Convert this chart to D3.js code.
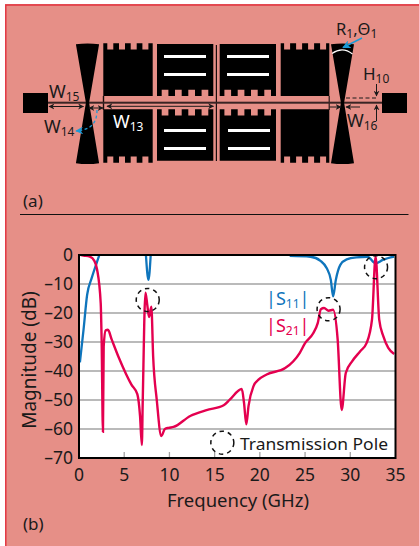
<!DOCTYPE html>
<html>
<head>
<meta charset="utf-8">
<script src="https://cdn.jsdelivr.net/npm/d3@7"></script>
<style>
  html, body { margin: 0; padding: 0; background: #fff; }
  svg { display: block; }
  text { font-family: "Noto Sans", "Open Sans", sans-serif; fill: #1a1a1a; }
</style>
</head>
<body>
<div id="chart"></div>
<script>
// --- Data ---
const s21Freq = [0.2, 0.5, 1.2, 1.7, 2.0, 2.4, 2.5, 2.65, 2.73, 2.95, 3.2, 3.6, 4.35, 5.2, 5.8, 6.45, 6.75, 6.95, 7.05, 7.35, 7.55, 7.75, 8.0, 8.2, 8.6, 9.1, 9.5, 9.9, 10.45, 12.3, 14.1, 16, 16.7, 18.0, 18.25, 18.5, 18.75, 19.3, 19.85, 20.75, 22.8, 24.4, 25, 25.9, 26.4, 26.75, 27.1, 27.6, 28.1, 28.6, 29.05, 29.5, 30.2, 31.1, 31.8, 32.4, 32.8, 33.2, 33.65, 34.2, 34.85];
const s21Mag = [0, -0.2, -0.6, -2, -5, -16.6, -29, -61, -31.5, -26, -25.8, -29, -35, -41, -44.7, -48, -55.5, -65.5, -50, -13, -17.2, -21.4, -17.8, -35, -50, -62.4, -60, -59.6, -59.3, -55.5, -53.5, -51.8, -49.8, -46.2, -51, -58.4, -52, -45.2, -43, -41.2, -39, -33.8, -30.4, -27, -23.5, -18.7, -18.3, -19.2, -18.9, -29, -53.5, -40.7, -36.7, -33.2, -30.4, -22.3, -0.5, -22.3, -28, -32, -34.1];
const s11Freq = [0.1, 0.5, 0.9, 1.4, 2, 2.25, 3, 7.4, 7.68, 7.93, 15, 23.3, 25.6, 26.7, 27.4, 27.85, 28.1, 28.4, 28.9, 29.6, 30.7, 31.9, 32.8, 33.6, 34.85];
const s11Mag = [-37, -25.8, -13.7, -8, -2.3, 0, null, 0, -8.6, 0, null, -0.3, -0.6, -2, -4.6, -8.6, -14.3, -8.6, -3.4, -1.5, -0.8, -0.6, -2.9, -1.7, -0.6];
const poleFreq = [7.6, 27.6, 32.85];
const poleMag = [-15.5, -18.7, -4.2];
const xTicks = [0, 5, 10, 15, 20, 25, 30, 35];
const yTicks = [0, -10, -20, -30, -40, -50, -60, -70];

const W = 419, H = 546;
const plot = { left: 79, right: 395.5, top: 255, bottom: 458 };
const BG = "#e68f87", BLUE = "#0f75bc", RED = "#e4004f", SKY = "#1b9ad6";

const svg = d3.select("#chart").append("svg").attr("width", W).attr("height", H);

// page background + the red edge of the box
svg.append("rect").attr("x", 5).attr("y", 4).attr("width", W - 5).attr("height", H - 4).attr("fill", BG);
svg.append("path").attr("d", `M5.8,${H}V5H${W}`).attr("fill", "none").attr("stroke", "#e2333f").attr("stroke-width", 1.4);

const defs = svg.append("defs");
defs.append("clipPath").attr("id", "plotClip").append("rect")
  .attr("x", plot.left).attr("y", plot.top)
  .attr("width", plot.right - plot.left).attr("height", plot.bottom - plot.top);

function addMarker(id, color) {
  defs.append("marker").attr("id", id).attr("viewBox", "0 0 10 10").attr("refX", 9).attr("refY", 5)
    .attr("markerWidth", 6).attr("markerHeight", 6).attr("orient", "auto-start-reverse")
    .append("path").attr("d", "M0,0L10,5L0,10L3,5Z").attr("fill", color);
}
addMarker("arrowK", "#1a1a1a");
addMarker("arrowB", SKY);

// --- (a) layout schematic ---
const layout = svg.append("g");

function rect(x0, y0, x1, y1, fill) {
  layout.append("rect").attr("x", x0).attr("y", y0).attr("width", x1 - x0).attr("height", y1 - y0).attr("fill", fill);
}

// toothed block: 4 notches cut along the top or bottom side
function block(x0, y0, x1, y1, side, offset, pitch, nw) {
  const depth = 6.3;
  const notches = d3.range(4).map(i => x0 + offset + i * pitch);
  const p = d3.path();
  p.moveTo(x0, y0);
  if (side === "top") {
    notches.forEach(a => {
      p.lineTo(a, y0); p.lineTo(a, y0 + depth); p.lineTo(a + nw, y0 + depth); p.lineTo(a + nw, y0);
    });
  }
  p.lineTo(x1, y0); p.lineTo(x1, y1);
  if (side === "bottom") {
    notches.slice().reverse().forEach(a => {
      p.lineTo(a + nw, y1); p.lineTo(a + nw, y1 - depth); p.lineTo(a, y1 - depth); p.lineTo(a, y1);
    });
  }
  p.lineTo(x0, y1);
  p.closePath();
  layout.append("path").attr("d", p.toString()).attr("fill", "#000");
}

function bowtie(cx, halfTop, y0, y1, midY) {
  const p = d3.path();
  p.moveTo(cx - halfTop, y0 + 0.8);
  p.quadraticCurveTo(cx, y0 - 1, cx + halfTop, y0 + 0.8);
  p.lineTo(cx + 1.6, midY);
  p.lineTo(cx + halfTop, y1 - 0.8);
  p.quadraticCurveTo(cx, y1 + 1, cx - halfTop, y1 - 0.8);
  p.lineTo(cx - 1.6, midY);
  p.closePath();
  layout.append("path").attr("d", p.toString()).attr("fill", "#000");
}

const feedY = 102.7;

// outer toothed blocks
block(103.3, 43.3, 152.7, 96, "top", 4, 11.7, 6);
block(103.3, 109.3, 152.7, 162.7, "bottom", 4, 11.7, 6);
block(280.7, 43.3, 329.3, 96, "top", 3.4, 12, 6);
block(280.7, 109.3, 329.3, 162.7, "bottom", 3.4, 12, 6);
// inner toothed blocks
block(157, 44, 213.3, 96, "bottom", 4.7, 13.3, 6.7);
block(157, 109.3, 213.3, 160.7, "top", 4.7, 13.3, 6.7);
block(219.7, 44, 276, 96, "bottom", 4.7, 13.3, 6.7);
block(219.7, 109.3, 276, 160.7, "top", 4.7, 13.3, 6.7);

// slots in the inner blocks
[[164, 206, 55, 58], [164, 206, 73, 76], [164, 206, 129, 132], [164, 206, 147, 150],
 [227, 269, 55, 58], [227, 269, 73, 76], [228, 270, 129, 132], [228, 270, 147, 150]]
  .forEach(s => rect(s[0], s[2], s[1], s[3], "#fff"));

// centre split and corridor ends
rect(215.8, 45, 217, 161, "#1a0d0d");
rect(102.8, 96, 104.2, 110, "#1a0d0d");
rect(328.6, 96, 329.8, 110, "#2a1a1a");

// feed line and ports
rect(48, feedY - 1, 382, feedY + 1, "#3a2424");
rect(23, 93, 48, 113, "#000");
rect(382, 93, 407, 113, "#000");

// radial stubs
bowtie(87.5, 11.6, 43.5, 164, feedY);
bowtie(342.5, 11.5, 43.5, 164, feedY);

// R1 arc on the right stub
layout.append("path").attr("d", "M332,53.5Q342.5,46 352.5,54").attr("fill", "none").attr("stroke", "#fff").attr("stroke-width", 1.1);

function arrow(x1, y1, x2, y2, opts) {
  const o = opts || {};
  const a = layout.append("line").attr("x1", x1).attr("y1", y1).attr("x2", x2).attr("y2", y2)
    .attr("stroke", o.color || "#1a1a1a").attr("stroke-width", o.width || 1)
    .attr("marker-end", `url(#${o.marker || "arrowK"})`);
  if (o.both) a.attr("marker-start", "url(#arrowK)");
  return a;
}

arrow(49, 106.5, 83.5, 106.5, { both: true });
arrow(89, 108, 103, 108, { both: true });
arrow(107, 106.3, 213.5, 106.3, { both: true });
arrow(329.5, 107, 341, 107);
arrow(360, 107, 346, 107);
arrow(376.5, 84, 376.5, 96);
arrow(376.5, 121, 376.5, 105);
layout.append("line").attr("x1", 346).attr("y1", 98).attr("x2", 377).attr("y2", 98)
  .attr("stroke", "#1a1a1a").attr("stroke-dasharray", "4,2.5");

// sky blue pointers
layout.append("path").attr("d", "M97,110C97,122 92,130 76,131").attr("fill", "none")
  .attr("stroke", SKY).attr("stroke-width", 1.3).attr("stroke-dasharray", "3,2.5")
  .attr("marker-end", "url(#arrowB)");
arrow(362, 38, 343, 47.5, { color: SKY, width: 1.4, marker: "arrowB" });

function subText(x, y, main, sub, opts) {
  const o = opts || {};
  const size = o.size || 18;
  const t = svg.append("text").attr("x", x).attr("y", y).attr("font-size", size);
  if (o.fill) t.style("fill", o.fill);
  t.append("tspan").text(main);
  t.append("tspan").attr("dy", 3).attr("font-size", o.subSize || 12).text(sub);
  if (o.tail) t.append("tspan").attr("dy", -3).text(o.tail);
  return t;
}

subText(49, 98, "W", "15");
subText(44, 133, "W", "14");
subText(113, 127.5, "W", "13", { fill: "#fff" });
subText(347, 127, "W", "16");
subText(363, 80, "H", "10", { size: 17 });
const r1 = subText(336, 35, "R", "1", { size: 16.5 });
r1.append("tspan").attr("dy", -3).text(",Θ");
r1.append("tspan").attr("dy", 3).attr("font-size", 12).text("1");

svg.append("text").attr("x", 23).attr("y", 207).attr("font-size", 17).text("(a)");
svg.append("line").attr("x1", 20).attr("x2", 408.5).attr("y1", 214.5).attr("y2", 214.5).attr("stroke", "#111").attr("stroke-width", 1);

// --- (b) frequency response ---
const x = d3.scaleLinear().domain([0, 35]).range([plot.left, plot.right]);
const y = d3.scaleLinear().domain([0, -70]).range([plot.top, plot.bottom]);

svg.append("rect").attr("x", plot.left).attr("y", plot.top)
  .attr("width", plot.right - plot.left).attr("height", plot.bottom - plot.top).attr("fill", "#fff");

svg.append("g").selectAll("line").data(yTicks.slice(1, -1)).enter().append("line")
  .attr("x1", plot.left).attr("x2", plot.right)
  .attr("y1", d => y(d)).attr("y2", d => y(d))
  .attr("stroke", "#a3a3a3").attr("stroke-width", 1.3);

svg.append("g").selectAll("line").data(xTicks.slice(1, -1)).enter().append("line")
  .attr("x1", d => x(d)).attr("x2", d => x(d))
  .attr("y1", plot.bottom - 6).attr("y2", plot.bottom)
  .attr("stroke", "#a3a3a3").attr("stroke-width", 1.3);

const line = d3.line()
  .defined(d => d[1] !== null)
  .x(d => x(d[0])).y(d => y(d[1]))
  .curve(d3.curveMonotoneX);

const curves = svg.append("g").attr("clip-path", "url(#plotClip)");
curves.append("path").datum(s11Freq.map((f, i) => [f, s11Mag[i]])).attr("d", line)
  .attr("fill", "none").attr("stroke", BLUE).attr("stroke-width", 2.3);
curves.append("path").datum(s21Freq.map((f, i) => [f, s21Mag[i]])).attr("d", line)
  .attr("fill", "none").attr("stroke", RED).attr("stroke-width", 2.4);

// transmission pole rings
svg.append("g").selectAll("circle").data(poleFreq).enter().append("circle")
  .attr("cx", d => x(d)).attr("cy", (d, i) => y(poleMag[i])).attr("r", 11.5)
  .attr("fill", "none").attr("stroke", "#111").attr("stroke-width", 1.5).attr("stroke-dasharray", "4.5,4");

// frame
svg.append("rect").attr("x", plot.left).attr("y", plot.top)
  .attr("width", plot.right - plot.left).attr("height", plot.bottom - plot.top)
  .attr("fill", "none").attr("stroke", "#000").attr("stroke-width", 2);

// legend inside the plot
svg.append("circle").attr("cx", x(15.85)).attr("cy", y(-64.7)).attr("r", 11.5)
  .attr("fill", "none").attr("stroke", "#111").attr("stroke-width", 1.5).attr("stroke-dasharray", "4.5,4");
svg.append("text").attr("x", 240).attr("y", 449.5).attr("font-size", 17)
  .attr("textLength", 148).attr("lengthAdjust", "spacingAndGlyphs").text("Transmission Pole");

// tick labels
svg.append("g").selectAll("text").data(xTicks).enter().append("text")
  .attr("x", d => x(d)).attr("y", 481).attr("text-anchor", "middle").attr("font-size", 17.5).text(d => d);
svg.append("g").selectAll("text").data(yTicks).enter().append("text")
  .attr("x", 73).attr("y", d => y(d) + 6).attr("text-anchor", "end").attr("font-size", 17.5)
  .text(d => d === 0 ? "0" : "–" + Math.abs(d));

svg.append("text").attr("x", 238).attr("y", 506.5).attr("text-anchor", "middle").attr("font-size", 18.5).text("Frequency (GHz)");
svg.append("text").attr("transform", "translate(36,360) rotate(-90)").attr("text-anchor", "middle").attr("font-size", 19).text("Magnitude (dB)");

subText(266, 305, "|S", "11", { fill: BLUE, tail: "|", size: 18 });
subText(266, 332, "|S", "21", { fill: RED, tail: "|", size: 18 });

svg.append("text").attr("x", 23).attr("y", 530).attr("font-size", 17).text("(b)");
</script>
</body>
</html>
